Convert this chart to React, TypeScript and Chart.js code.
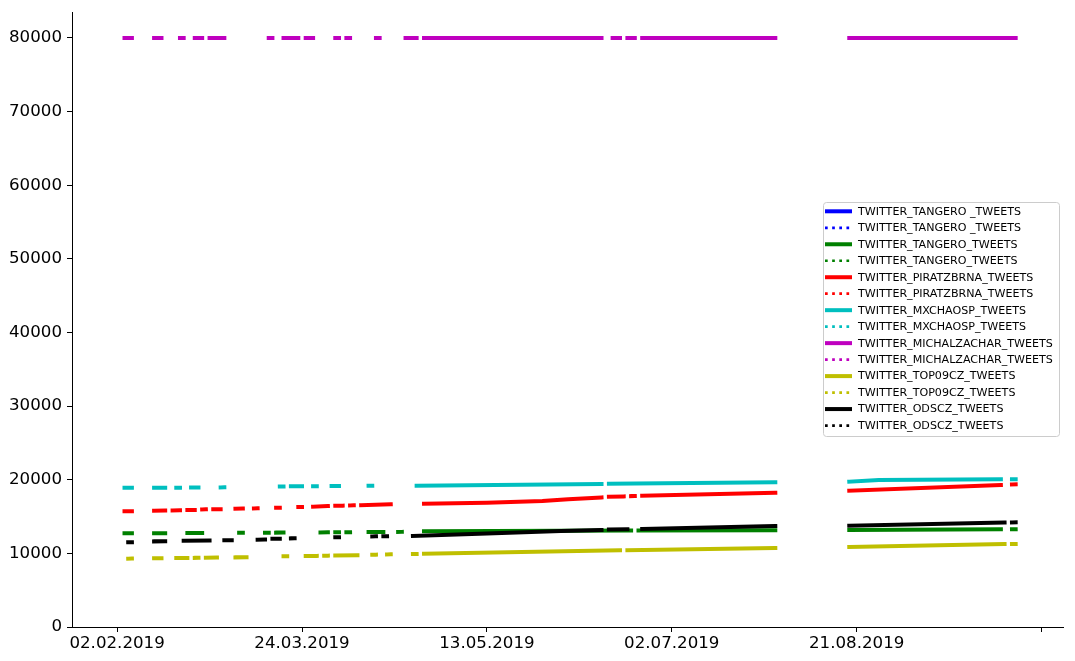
import React, { useEffect, useRef } from 'react';
import { Chart, registerables } from 'chart.js';

Chart.register(...registerables);

// x values are days counted from 02.02.2019
const X_TICKS = [0, 50, 100, 150, 200, 250];
const X_TICK_LABELS = ['02.02.2019', '24.03.2019', '13.05.2019', '02.07.2019', '21.08.2019', ''];
const Y_TICKS = [0, 10000, 20000, 30000, 40000, 50000, 60000, 70000, 80000];

const ACCOUNTS = [
  'TWITTER_TANGERO _TWEETS',
  'TWITTER_TANGERO_TWEETS',
  'TWITTER_PIRATZBRNA_TWEETS',
  'TWITTER_MXCHAOSP_TWEETS',
  'TWITTER_MICHALZACHAR_TWEETS',
  'TWITTER_TOP09CZ_TWEETS',
  'TWITTER_ODSCZ_TWEETS',
];
const COLORS = ['#0000ff', '#008000', '#ff0000', '#00bfbf', '#bf00bf', '#bfbf00', '#000000'];

type P = [number, number] | null;

const TANGERO_SPACE: P[] = [];

const TANGERO: P[] = [
  [2, 12720], [4, 12720], null,
  [10, 12730], [13, 12740], null,
  [19, 12760], [23, 12770], null,
  [33, 12790], [34, 12790], null,
  [40, 12810], [41, 12810], null,
  [43, 12820], [45, 12830], null,
  [55, 12850], [57, 12860], null,
  [59, 12860], [60, 12870], null,
  [62, 12870], [63, 12880], null,
  [68, 12890], [72, 12900], null,
  [76, 12910], [77, 12920], null,
  [83, 13000], [139, 13100], null,
  [141, 13110], [178, 13150], null,
  [198, 13170], [239, 13270], null,
  [242, 13270], [243, 13280],
];

const PIRATZBRNA: P[] = [
  [2, 15710], [4, 15720], null,
  [10, 15790], [13, 15810], null,
  [15, 15840], [17, 15850], null,
  [19, 15880], [21, 15890], null,
  [23, 15960], [24, 15980], null,
  [26, 15980], [28, 15990], null,
  [32, 16060], [34, 16080], null,
  [37, 16110], [38, 16120], null,
  [43, 16190], [44, 16200], null,
  [49, 16290], [50, 16300], null,
  [53, 16340], [57, 16420], null,
  [59, 16460], [61, 16480], null,
  [63, 16510], [64, 16520], null,
  [66, 16530], [74, 16660], null,
  [83, 16750], [100, 16870], [115, 17100], [122, 17350], [131, 17600], null,
  [133, 17690], [137, 17740], null,
  [139, 17780], [140, 17790], null,
  [142, 17820], [178, 18240], null,
  [198, 18510], [239, 19290], null,
  [242, 19370], [243, 19380],
];

const MXCHAOSP: P[] = [
  [2, 18900], [4, 18900], null,
  [10, 18920], [13, 18920], null,
  [16, 18930], [17, 18930], null,
  [20, 18940], [22, 18940], null,
  [28, 18960], [29, 18970], null,
  [44, 19080], [45, 19090], null,
  [47, 19100], [50, 19100], null,
  [53, 19110], [54, 19110], null,
  [58, 19140], [60, 19150], null,
  [68, 19180], [69, 19190], null,
  [81, 19200], [131, 19430], null,
  [133, 19470], [178, 19650], null,
  [198, 19740], [206, 19960], [239, 20060], null,
  [242, 20060], [243, 20060],
];

const MICHALZACHAR: P[] = [
  [2, 80000], [4, 80000], null,
  [10, 80000], [12, 80000], null,
  [17, 80000], [18, 80000], null,
  [21, 80000], [23, 80000], null,
  [25, 80000], [29, 80000], null,
  [41, 80000], [42, 80000], null,
  [45, 80000], [49, 80000], null,
  [51, 80000], [53, 80000], null,
  [59, 80000], [60, 80000], null,
  [62, 80000], [63, 80000], null,
  [70, 80000], [71, 80000], null,
  [78, 80000], [81, 80000], null,
  [83, 80000], [131, 80000], null,
  [134, 80000], [136, 80000], null,
  [138, 80000], [140, 80000], null,
  [142, 80000], [178, 80000], null,
  [198, 80000], [243, 80000],
];

const TOP09CZ: P[] = [
  [3, 9280], [4, 9290], null,
  [10, 9330], [12, 9340], null,
  [16, 9370], [19, 9380], null,
  [21, 9390], [22, 9400], null,
  [24, 9410], [27, 9430], null,
  [32, 9460], [35, 9480], null,
  [45, 9600], [46, 9600], null,
  [51, 9640], [54, 9660], null,
  [56, 9680], [57, 9690], null,
  [59, 9720], [65, 9740], null,
  [69, 9820], [70, 9830], null,
  [73, 9860], [74, 9870], null,
  [80, 9910], [81, 9920], null,
  [83, 9960], [136, 10410], null,
  [138, 10420], [178, 10730], null,
  [198, 10870], [240, 11270], null,
  [242, 11270], [243, 11280],
];

const ODSCZ: P[] = [
  [3, 11500], [4, 11510], null,
  [10, 11630], [13, 11650], null,
  [18, 11710], [25, 11740], null,
  [29, 11770], [31, 11780], null,
  [38, 11850], [40, 11870], null,
  [42, 11990], [44, 12000], null,
  [47, 12040], [48, 12050], null,
  [59, 12180], [60, 12190], null,
  [69, 12300], [70, 12310], null,
  [72, 12320], [73, 12330], null,
  [80, 12360], [100, 12700], [120, 13050], [131, 13170], null,
  [133, 13250], [138, 13270], null,
  [142, 13310], [178, 13720], null,
  [198, 13760], [240, 14190], null,
  [242, 14200], [243, 14210],
];

const SOLID_SERIES: P[][] = [TANGERO_SPACE, TANGERO, PIRATZBRNA, MXCHAOSP, MICHALZACHAR, TOP09CZ, ODSCZ];
const DOTTED_SERIES: P[][] = [[], [], [], [], [], [], []];

function toPoints(arr: P[]) {
  const pts: { x: number; y: number | null }[] = [];
  arr.forEach((p, i) => {
    if (p === null) {
      const prev = arr[i - 1] as [number, number];
      pts.push({ x: prev[0] + 0.5, y: null });
    } else {
      pts.push({ x: p[0], y: p[1] });
    }
  });
  return pts;
}

const FONT = 'DejaVu Sans';

const legendPlugin = {
  id: 'mplLegend',
  afterDraw(chart: any) {
    const ctx: CanvasRenderingContext2D = chart.ctx;
    const x0 = 823.5, y0 = 202.5, w = 236, h = 234, r = 3;
    ctx.save();
    ctx.beginPath();
    ctx.moveTo(x0 + r, y0);
    ctx.lineTo(x0 + w - r, y0);
    ctx.quadraticCurveTo(x0 + w, y0, x0 + w, y0 + r);
    ctx.lineTo(x0 + w, y0 + h - r);
    ctx.quadraticCurveTo(x0 + w, y0 + h, x0 + w - r, y0 + h);
    ctx.lineTo(x0 + r, y0 + h);
    ctx.quadraticCurveTo(x0, y0 + h, x0, y0 + h - r);
    ctx.lineTo(x0, y0 + r);
    ctx.quadraticCurveTo(x0, y0, x0 + r, y0);
    ctx.closePath();
    ctx.fillStyle = 'rgba(255,255,255,0.8)';
    ctx.fill();
    ctx.strokeStyle = '#cccccc';
    ctx.lineWidth = 1;
    ctx.stroke();
    chart.data.datasets.forEach((ds: any, i: number) => {
      const cy = 211.3 + i * 16.48;
      ctx.beginPath();
      ctx.setLineDash(ds.borderDash || []);
      ctx.lineCap = 'butt';
      ctx.lineWidth = ds.borderWidth;
      ctx.strokeStyle = ds.borderColor;
      ctx.moveTo(825, cy);
      ctx.lineTo(852, cy);
      ctx.stroke();
      ctx.setLineDash([]);
      ctx.fillStyle = '#000000';
      ctx.font = `11.1px ${FONT}`;
      ctx.textBaseline = 'middle';
      ctx.textAlign = 'left';
      ctx.fillText(ds.label, 858, cy + 0.5);
    });
    ctx.restore();
  },
};

export default function App() {
  const ref = useRef<HTMLCanvasElement>(null);

  useEffect(() => {
    if (!ref.current) return;
    const datasets: any[] = [];
    ACCOUNTS.forEach((name, k) => {
      datasets.push({
        label: name,
        data: toPoints(SOLID_SERIES[k]),
        borderColor: COLORS[k],
        backgroundColor: COLORS[k],
        borderWidth: 4,
        borderCapStyle: 'square',
        borderJoinStyle: 'round',
        pointRadius: 0,
        spanGaps: false,
        fill: false,
      });
      datasets.push({
        label: name,
        data: toPoints(DOTTED_SERIES[k]),
        borderColor: COLORS[k],
        backgroundColor: COLORS[k],
        borderWidth: 2.7,
        borderDash: [2.7, 4.45],
        pointRadius: 0,
        spanGaps: false,
        fill: false,
      });
    });
    datasets.forEach((d, i) => (d.order = datasets.length - i));

    const tickFont = { size: 16.67, family: FONT };
    const chart = new Chart(ref.current, {
      type: 'line',
      data: { datasets },
      plugins: [legendPlugin],
      options: {
        animation: false,
        responsive: false,
        devicePixelRatio: 1,
        layout: { padding: { left: 0, top: 12, right: 12, bottom: 0 } },
        plugins: { legend: { display: false }, tooltip: { enabled: false } },
        elements: { point: { radius: 0, hoverRadius: 0 }, line: { tension: 0 } },
        scales: {
          x: {
            type: 'linear',
            min: -12.2,
            max: 255.8,
            afterBuildTicks: (s: any) => {
              s.ticks = X_TICKS.map((v) => ({ value: v }));
            },
            afterFit: (s: any) => {
              s.height = 34;
              s.paddingLeft = 0;
              s.paddingRight = 0;
            },
            ticks: {
              autoSkip: false,
              maxRotation: 0,
              minRotation: 0,
              padding: 2,
              color: '#000000',
              font: tickFont,
              callback: (v: any) => X_TICK_LABELS[X_TICKS.indexOf(Number(v))] ?? '',
            },
            grid: { display: true, drawOnChartArea: false, drawTicks: true, tickLength: 5, color: '#000000', lineWidth: 1 },
            border: { display: true, color: '#000000', width: 1 },
          },
          y: {
            type: 'linear',
            min: 0,
            max: 83530,
            afterBuildTicks: (s: any) => {
              s.ticks = Y_TICKS.map((v) => ({ value: v }));
            },
            afterFit: (s: any) => {
              s.width = 72;
              s.paddingTop = 0;
              s.paddingBottom = 0;
            },
            ticks: {
              padding: 5,
              color: '#000000',
              font: tickFont,
              callback: (v: any) => String(v),
            },
            grid: { display: true, drawOnChartArea: false, drawTicks: true, tickLength: 5, color: '#000000', lineWidth: 1 },
            border: { display: true, color: '#000000', width: 1 },
          },
        },
      } as any,
    });
    return () => chart.destroy();
  }, []);

  return (
    <div style={{ position: 'absolute', left: 0, top: 0, width: 1075, height: 661, background: '#ffffff' }}>
      <canvas ref={ref} width={1075} height={661} style={{ display: 'block', width: 1075, height: 661 }} />
    </div>
  );
}
